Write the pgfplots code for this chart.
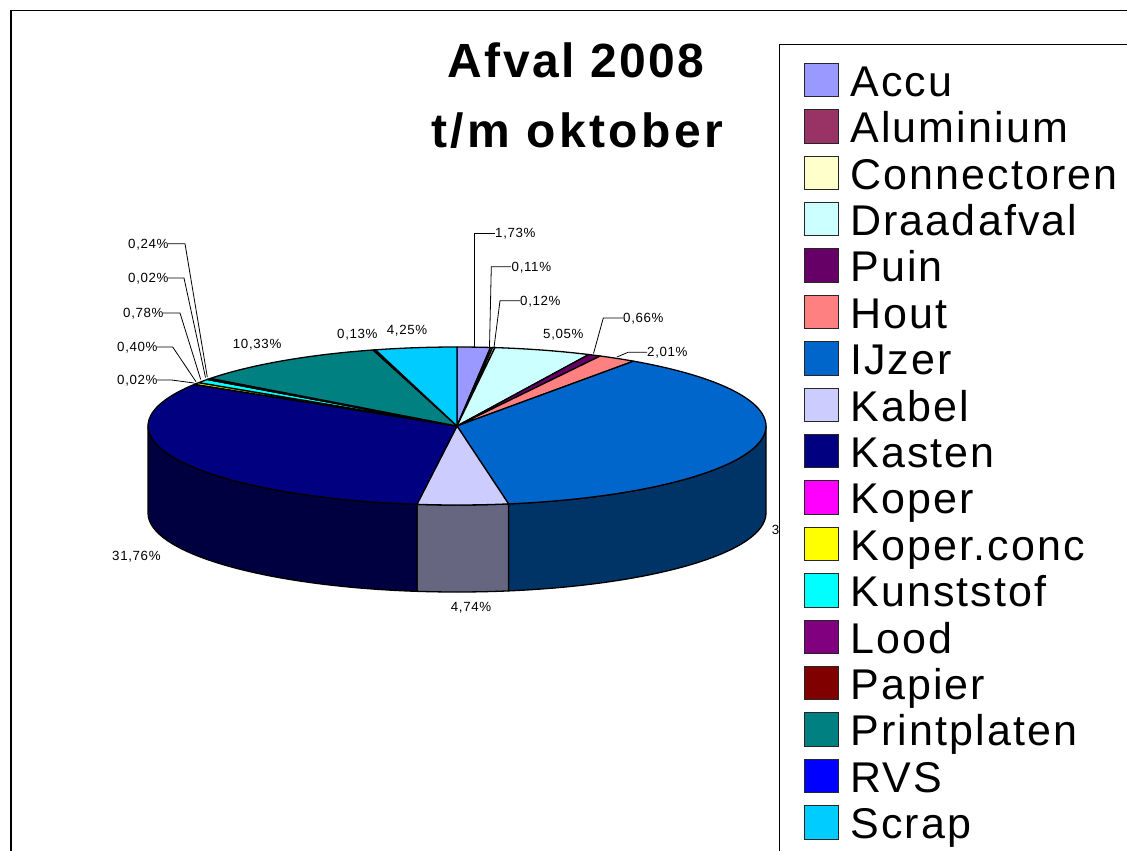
\documentclass[border=0pt]{standalone}
\usepackage{pgfplots}
\pgfplotsset{compat=1.18}
\usepackage{pgfplotstable}
\usepackage{fontspec}
\setmainfont{Liberation Sans}[LetterSpace=5]
\newfontfamily\titlefont{Liberation Sans}[LetterSpace=7]

\definecolor{cAccu}{HTML}{9999FF}
\definecolor{cAlu}{HTML}{993366}
\definecolor{cCon}{HTML}{FFFFCC}
\definecolor{cDra}{HTML}{CCFFFF}
\definecolor{cPuin}{HTML}{660066}
\definecolor{cHout}{HTML}{FF8080}
\definecolor{cIJ}{HTML}{0066CC}
\definecolor{cKab}{HTML}{CCCCFF}
\definecolor{cKas}{HTML}{000080}
\definecolor{cKop}{HTML}{FF00FF}
\definecolor{cKopc}{HTML}{FFFF00}
\definecolor{cKun}{HTML}{00FFFF}
\definecolor{cLood}{HTML}{800080}
\definecolor{cPap}{HTML}{800000}
\definecolor{cPri}{HTML}{008080}
\definecolor{cRVS}{HTML}{0000FF}
\definecolor{cScr}{HTML}{00CCFF}

\pgfplotstableread[col sep=comma]{
name,value,col
Accu,1.73,cAccu
Aluminium,0.11,cAlu
Connectoren,0.12,cCon
Draadafval,5.05,cDra
Puin,0.66,cPuin
Hout,2.01,cHout
IJzer,37.65,cIJ
Kabel,4.74,cKab
Kasten,31.76,cKas
Koper,0.02,cKop
Koper.conc,0.40,cKopc
Kunststof,0.78,cKun
Lood,0.02,cLood
Papier,0.24,cPap
Printplaten,10.33,cPri
RVS,0.13,cRVS
Scrap,4.25,cScr
}\piedata

% build drawing code from the data
\gdef\piecode{}
\gdef\sidecode{}
\gdef\legcode{}
\pgfmathsetmacro\cum{0}
\pgfplotstablegetrowsof{\piedata}
\pgfmathtruncatemacro\nrows{\pgfplotsretval-1}
\pgfplotsforeachungrouped \ii in {0,...,\nrows}{%
  \pgfplotstablegetelem{\ii}{value}\of\piedata \let\sval\pgfplotsretval
  \pgfplotstablegetelem{\ii}{col}\of\piedata \let\scol\pgfplotsretval
  \pgfplotstablegetelem{\ii}{name}\of\piedata \let\sname\pgfplotsretval
  \pgfmathsetmacro\sa{90-3.6*\cum}%
  \pgfmathsetmacro\cum{\cum+\sval}%
  \pgfmathsetmacro\ea{90-3.6*\cum}%
  \xdef\piecode{\unexpanded\expandafter{\piecode}%
    \noexpand\filldraw[fill=\scol,draw=black,line width=1.3pt,line join=round]
      (axis cs:457,426) -- ++(\sa:309pt and 79pt)
      arc[start angle=\sa,end angle=\ea,x radius=309pt,y radius=79pt] -- cycle;}%
  \pgfmathsetmacro\hi{min(\sa,0)}%
  \pgfmathsetmacro\lo{max(\ea,-180)}%
  \pgfmathtruncatemacro\vis{\hi>\lo}%
  \ifnum\vis=1
    \xdef\sidecode{\unexpanded\expandafter{\sidecode}%
      \noexpand\filldraw[fill=\scol!50!black,draw=black,line width=1.3pt,line join=round]
        (axis cs:457,426) ++(\hi:309pt and 79pt)
        arc[start angle=\hi,end angle=\lo,x radius=309pt,y radius=79pt]
        -- ++(0,-87pt)
        arc[start angle=\lo,end angle=\hi,x radius=309pt,y radius=79pt] -- cycle;}%
  \fi
  \pgfmathsetmacro\ly{80+46.4*\ii}%
  \pgfmathsetmacro\lyt{\ly-16.7}%
  \pgfmathsetmacro\lyb{\ly+16.7}%
  \pgfmathsetmacro\lbase{\ly+16.3}%
  \xdef\legcode{\unexpanded\expandafter{\legcode}%
    \noexpand\filldraw[fill=\scol,draw=black!85,line width=1pt] (axis cs:804.5,\lyt) rectangle (axis cs:838,\lyb);
    \noexpand\node[anchor=base west,inner sep=0pt,font=\noexpand\legfont] at (axis cs:850,\lbase) {\sname};}%
}
\newcommand\legfont{\fontsize{43}{45}\selectfont}

\begin{document}
\begin{tikzpicture}
\begin{axis}[
  width=1127pt, height=851pt, scale only axis,
  xmin=0, xmax=1127, ymin=0, ymax=851, y dir=reverse,
  hide axis, clip=false,
  at={(0,0)}, anchor=south west]
\coordinate (SW) at (axis cs:0,851);
\coordinate (NE) at (axis cs:1127,0);
% chart frame
\draw[line width=1.4pt] (axis cs:11,1000) -- (axis cs:11,10.5) -- (axis cs:1300,10.5);
% pie
\sidecode
\piecode
% leader lines
\begin{scope}[line width=0.8pt, draw=black]
\draw (axis cs:495,233) -- (axis cs:474,233) -- (axis cs:474,347);
\draw (axis cs:511,266.7) -- (axis cs:491.3,266.7) -- (axis cs:489.5,347);
\draw (axis cs:520,300.7) -- (axis cs:500,300.7) -- (axis cs:494,347.5);
\draw (axis cs:623,318) -- (axis cs:603.3,318) -- (axis cs:593.5,353.5);
\draw (axis cs:647,352.3) -- (axis cs:628,352.3) -- (axis cs:617,357);
\draw (axis cs:168,243.7) -- (axis cs:185,243.7) -- (axis cs:207.3,377);
\draw (axis cs:168,278) -- (axis cs:184,278) -- (axis cs:205.5,377.5);
\draw (axis cs:163,313) -- (axis cs:180,313) -- (axis cs:200.7,379.5);
\draw (axis cs:157,347) -- (axis cs:172.7,347) -- (axis cs:196,381.7);
\draw (axis cs:157,380) -- (axis cs:171.7,380) -- (axis cs:194,383);
\end{scope}
% data labels
\begin{scope}[every node/.style={anchor=base west,inner sep=0pt,font=\fontsize{13.3}{14}\selectfont}]
\node at (axis cs:495,237.7) {1,73\%};
\node at (axis cs:511.5,271.4) {0,11\%};
\node at (axis cs:520,305.4) {0,12\%};
\node at (axis cs:543,338.7) {5,05\%};
\node at (axis cs:623,322.7) {0,66\%};
\node at (axis cs:647,356.7) {2,01\%};
\node at (axis cs:771.7,534.7) {37,65\%};
\node at (axis cs:450.7,611.7) {4,74\%};
\node at (axis cs:112,560.7) {31,76\%};
\node at (axis cs:117,384.7) {0,02\%};
\node at (axis cs:117,351.4) {0,40\%};
\node at (axis cs:123,317.7) {0,78\%};
\node at (axis cs:128,282.7) {0,02\%};
\node at (axis cs:128,248.4) {0,24\%};
\node at (axis cs:232.7,348.7) {10,33\%};
\node at (axis cs:337,338.7) {0,13\%};
\node at (axis cs:386.7,334.7) {4,25\%};
\end{scope}
% title
\node[anchor=base,inner sep=0pt,font=\fontsize{48}{50}\selectfont\bfseries] at (axis cs:576,77.3) {Afval 2008};
\node[anchor=base,inner sep=0pt,font=\fontsize{48}{50}\selectfont\titlefont\bfseries] at (axis cs:577,147) {t/m oktober};
% legend
\filldraw[fill=white,draw=black,line width=1.3pt] (axis cs:779.3,44.3) rectangle (axis cs:1300,1000);
\legcode
\end{axis}
\pgfresetboundingbox
\path[use as bounding box] (SW) rectangle (NE);
\end{tikzpicture}
\end{document}
